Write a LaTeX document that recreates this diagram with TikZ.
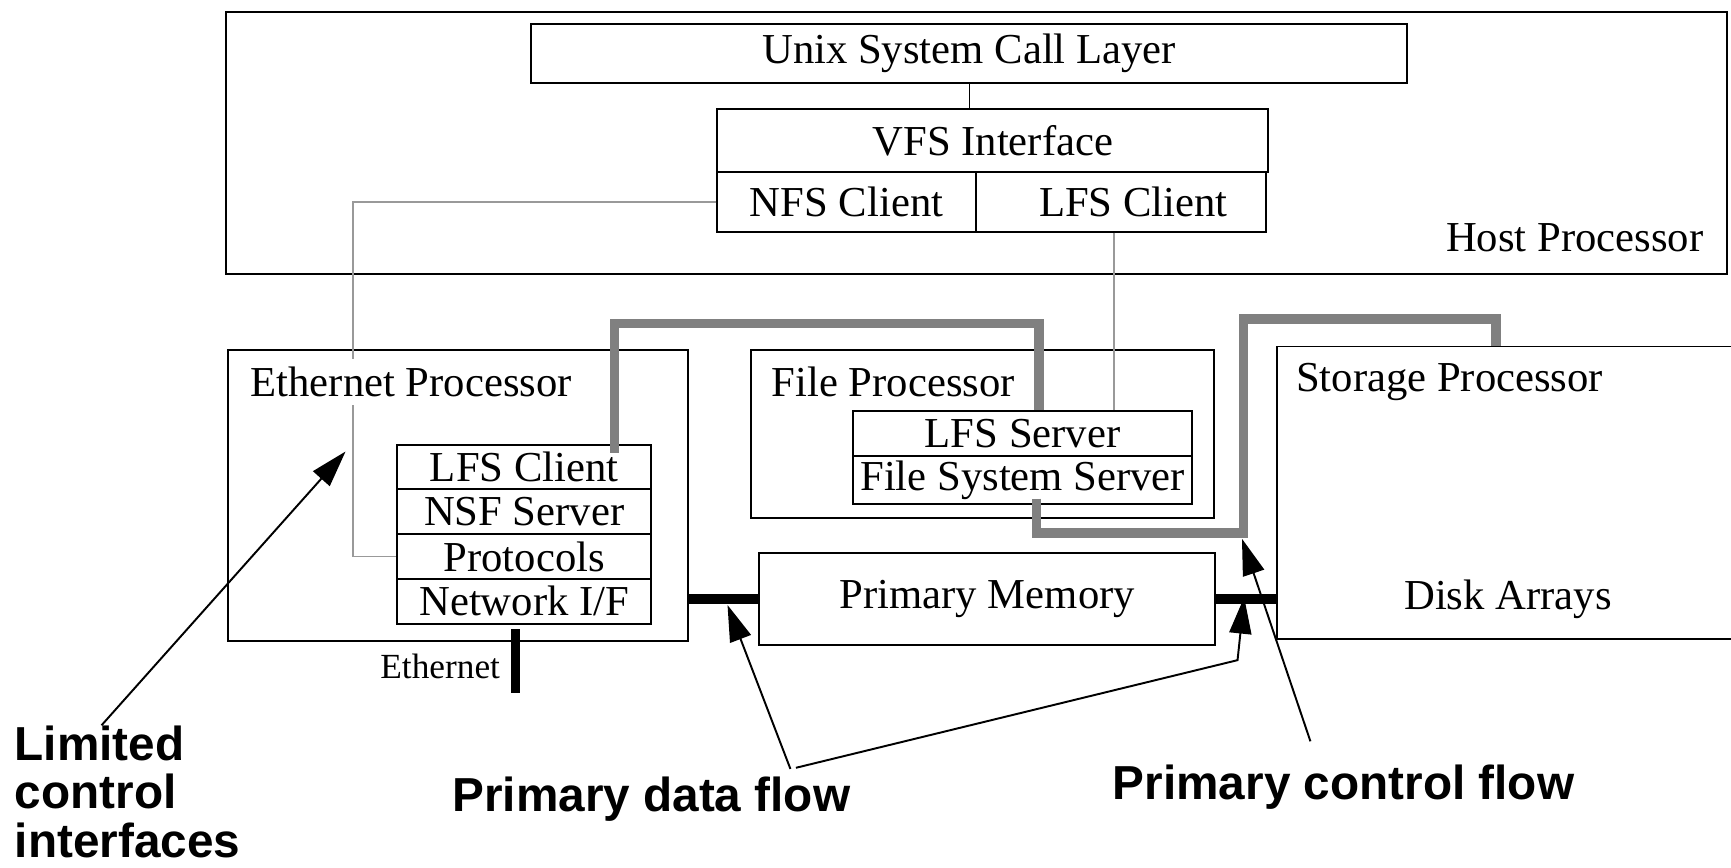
\documentclass[tikz,border=0pt]{standalone}
\usepackage{fontspec}
\setmainfont{Liberation Serif}
\newfontfamily\annofont{Liberation Sans}
\usetikzlibrary{arrows.meta, positioning}

\tikzset{
  box/.style={draw, line width=1pt, inner sep=0pt, anchor=north west, font=\fontsize{22}{26}\selectfont},
  cell/.style={box, minimum width=4.6cm, minimum height=0.81cm},
  title/.style={inner sep=1pt, font=\fontsize{22}{26}\selectfont},
  link/.style={draw=gray!80, line width=1pt},
  ctrl/.style={draw=gray, line width=5pt},
  bus/.style={line width=5pt},
  note/.style={inner sep=0pt, font=\annofont\bfseries\fontsize{24.6}{25}\selectfont},
  pointer/.style={line width=1pt, -{Triangle[length=0.66cm,width=0.4cm]}}
}

\begin{document}
\begin{tikzpicture}[x=0.02cm, y=-0.02cm]
        \useasboundingbox (0,0) rectangle (1568,786);

        % host side
        \node[box, minimum width=27.2cm, minimum height=4.74cm] (host) at (204,10) {};
        \node[title, anchor=east] (hostname) at (1545,215) {Host Processor};
        \node[box, minimum width=15.88cm, minimum height=1.06cm] (unix) at (480,21) {Unix System Call Layer};
        \node[box, minimum width=9.98cm, minimum height=1.14cm] (vfs) at (649,98) {VFS Interface};
        \node[box, minimum width=4.68cm, minimum height=1.08cm] (nfs) at (649,155) {NFS Client};
        \node[box, minimum width=5.26cm, minimum height=1.08cm] (lfsc) at (883,155) {\hspace*{0.45cm}LFS Client};

        % processor boards
        \node[box, minimum width=8.32cm, minimum height=5.28cm] (eth) at (206,316) {};
        \node[cell] (elfs) at (359,402) {LFS Client};
        \node[cell] (nsf) at (359,442.5) {NSF Server};
        \node[cell] (proto) at (359,483) {Protocols};
        \node[cell] (netif) at (359,523.5) {Network I/F};

        \node[box, minimum width=8.4cm, minimum height=3.04cm] (filep) at (679,316) {};
        \node[title, anchor=west] (filename) at (697,346) {File Processor};
        \node[box, minimum width=6.14cm, minimum height=0.82cm] (lfss) at (772,371) {LFS Server};
        \node[box, minimum width=6.14cm, minimum height=0.88cm] (fss) at (772,412) {File System Server};

        \node[box, minimum width=8.26cm, minimum height=1.66cm] (pm) at (687,500) {Primary Memory};

        \node[box, minimum width=9cm, minimum height=5.3cm] (stor) at (1156,313) {};
        \node[title, anchor=west] (storname) at (1172,346) {Storage Processor};
        \node[title] (disks) at (1366,543) {Disk Arrays};

        % thin control links
        \draw (unix.south) -- (unix.south |- vfs.north);
        \draw[link] (nfs.west) -- ++(-329,0) |- (proto.west);
        \draw[link] ([xshift=-0.13cm]lfsc.south) -- ([xshift=-0.13cm]lfsc.south |- lfss.north);
        \node[title, anchor=west, fill=white, inner ysep=4pt] (ethname) at (225,346) {Ethernet Processor};

        % control flow
        \draw[ctrl] ([xshift=-0.68cm,yshift=-0.16cm]elfs.north east) -- ++(0,-117) -| ([xshift=0.3cm]lfss.north);
        \draw[ctrl] ([xshift=0.25cm,yshift=0.12cm]fss.south) -- ++(0,31) -- ++(187.5,0) -- ++(0,-194) -| ([xshift=3.98cm]stor.north west);

        % data paths
        \draw[bus] (eth.east |- pm.west) -- (pm.west);
        \draw[bus] (pm.east) -- (pm.east -| stor.west);
        \coordinate (wiretop) at (467,570);
        \coordinate (wirefoot) at (467,628);
        \draw[bus] (wiretop) -- (wirefoot);
        \node[title, anchor=east, font=\fontsize{18.2}{22}\selectfont] (ethwire) at (455,604) {Ethernet};

        % annotations
        \node[note, anchor=north west, align=left] (limited) at (13,657) {Limited\\control\\interfaces};
        \node[note] (dataflow) at (590,724) {Primary data flow};
        \node[note] (ctrlflow) at (1217,713) {Primary control flow};

        \coordinate (limtip) at (313,409);
        \coordinate (memtip) at (659,548);
        \coordinate (bend) at (1121,598);
        \coordinate (bustip) at (1127,541);
        \coordinate (ctrltip) at (1125,488);

        \draw[pointer] ([xshift=1.58cm]limited.north west) -- (limtip);
        \draw[pointer] ([xshift=2.52cm,yshift=0.14cm]dataflow.north) -- (memtip);
        \draw[pointer] ([xshift=2.62cm,yshift=0.16cm]dataflow.north) -- (bend) -- (bustip);
        \draw[pointer] ([xshift=-0.6cm,yshift=0.42cm]ctrlflow.north) -- (ctrltip);
\end{tikzpicture}
\end{document}
